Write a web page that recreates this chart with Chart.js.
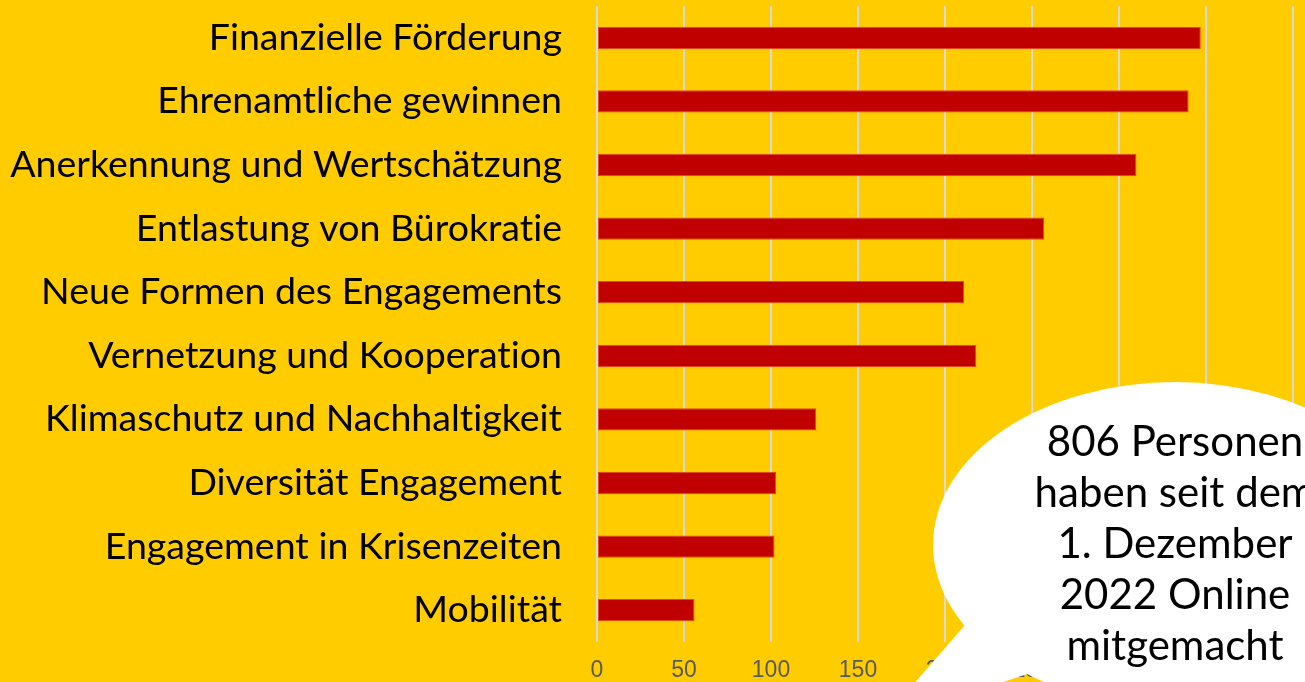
<!DOCTYPE html>
<html>
<head>
<meta charset="utf-8">
<script src="https://cdn.jsdelivr.net/npm/chart.js@4/dist/chart.umd.min.js"></script>
<style>
  html, body { margin: 0; padding: 0; background: #FFCC00; }
  #wrap { width: 1305px; height: 682px; position: relative; }
</style>
</head>
<body>
<div id="wrap"><canvas id="c" width="1305" height="682"></canvas></div>
<script>
const categories = [
  "Finanzielle Förderung",
  "Ehrenamtliche gewinnen",
  "Anerkennung und Wertschätzung",
  "Entlastung von Bürokratie",
  "Neue Formen des Engagements",
  "Vernetzung und Kooperation",
  "Klimaschutz und Nachhaltigkeit",
  "Diversität Engagement",
  "Engagement in Krisenzeiten",
  "Mobilität"
];
const counts = [347, 340, 310, 257, 211, 218, 126, 103, 102, 56];
const xTicks = [0, 50, 100, 150, 200, 250, 300, 350, 400];
const bubbleLines = ["806 Personen", "haben seit dem", "1. Dezember", "2022 Online", "mitgemacht"];

const bgPlugin = {
  id: 'bg',
  beforeDraw(chart) {
    const ctx = chart.ctx;
    if ('letterSpacing' in ctx) ctx.letterSpacing = '0.01px';
    ctx.save();
    ctx.fillStyle = '#FFCC00';
    ctx.fillRect(0, 0, chart.width, chart.height);
    ctx.restore();
  }
};

const bubblePlugin = {
  id: 'bubble',
  afterDraw(chart) {
    const ctx = chart.ctx;
    ctx.save();
    ctx.fillStyle = '#FFFFFF';
    ctx.beginPath();
    ctx.ellipse(1175, 545, 242, 163, 0, 0, Math.PI * 2);
    ctx.fill();
    ctx.beginPath();
    ctx.moveTo(965, 625);
    ctx.lineTo(879, 724);
    ctx.lineTo(1030, 673);
    ctx.lineTo(1020, 600);
    ctx.closePath();
    ctx.fill();
    ctx.fillStyle = '#000000';
    ctx.font = '42px Lato';
    ctx.textAlign = 'center';
    ctx.textBaseline = 'middle';
    bubbleLines.forEach((t, i) => ctx.fillText(t, 1175, 442 + i * 51.2));
    ctx.restore();
  }
};

new Chart(document.getElementById('c'), {
  type: 'bar',
  data: {
    labels: categories,
    datasets: [{
      data: counts,
      backgroundColor: '#C00000',
      borderColor: '#E2461A',
      borderWidth: 1,
      borderSkipped: false,
      categoryPercentage: 1,
      barPercentage: 0.35
    }]
  },
  options: {
    indexAxis: 'y',
    responsive: false,
    animation: false,
    devicePixelRatio: 1,
    layout: { padding: { top: 6, right: 12, left: 0, bottom: 0 } },
    plugins: { legend: { display: false }, tooltip: { enabled: false } },
    scales: {
      x: {
        min: 0,
        max: 400,
        afterBuildTicks(scale) { scale.ticks = xTicks.map(v => ({ value: v })); },
        afterFit(scale) { scale.height = 40; scale.paddingLeft = 0; scale.paddingRight = 0; },
        grid: { color: '#D9D9D9', lineWidth: 2, drawTicks: false },
        border: { display: false },
        ticks: {
          padding: 15,
          color: '#595959',
          font: { family: "'Liberation Sans', Arial, sans-serif", size: 23 },
          maxRotation: 0,
          autoSkip: false
        }
      },
      y: {
        afterFit(scale) { scale.width = 597; scale.paddingTop = 0; scale.paddingBottom = 0; },
        grid: { display: false, drawTicks: false },
        border: { display: false },
        ticks: {
          padding: 35,
          color: '#000000',
          font: { family: 'Lato', size: 37.5 },
          autoSkip: false
        }
      }
    }
  },
  plugins: [bgPlugin, bubblePlugin]
});
</script>
</body>
</html>
